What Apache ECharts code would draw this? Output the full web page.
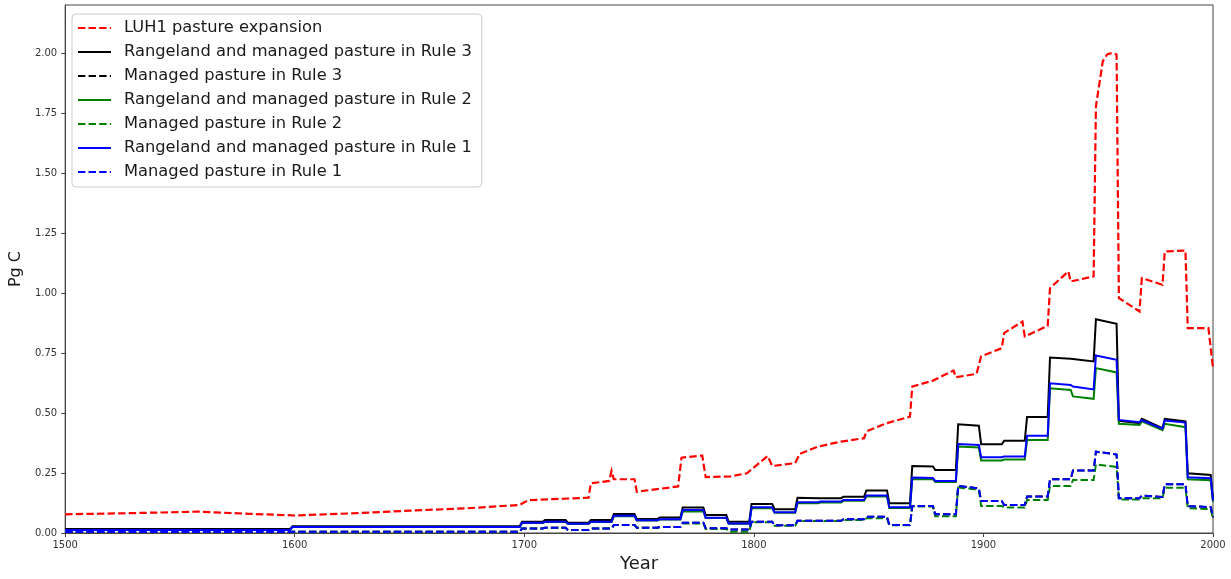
<!DOCTYPE html>
<html>
<head>
<meta charset="utf-8">
<script src="https://cdn.jsdelivr.net/npm/echarts@6/dist/echarts.min.js"></script>
<style>
html,body{margin:0;padding:0;background:#fff;}
#chart{width:1231px;height:579px;}
</style>
</head>
<body>
<div id="chart"></div>
<script>
// ---- DATA ----
const xTicks = [1500, 1600, 1700, 1800, 1900, 2000];
const yTicks = [0, 0.25, 0.5, 0.75, 1.0, 1.25, 1.5, 1.75, 2.0];

// LUH1 pasture expansion (red dashed)
const luhYears = [1500,1530,1558,1580,1600,1625,1650,1675,1698,1700,1702,1728,1729,1737,1738,1739,1748,1749,1767,1768.5,1777.5,1779,1790,1797,1806,1808,1818,1820,1828,1838,1848,1849,1858,1868,1869,1878,1887,1888,1897,1899,1908,1909,1917,1918,1928,1929,1937,1938,1948,1949,1952,1954,1956,1958,1959,1968,1969,1978,1979,1988,1989,1998,2000];
const luhValues = [0.078,0.083,0.089,0.080,0.073,0.082,0.093,0.103,0.117,0.128,0.137,0.147,0.207,0.217,0.259,0.224,0.224,0.172,0.194,0.314,0.323,0.233,0.236,0.249,0.321,0.279,0.291,0.330,0.360,0.381,0.395,0.423,0.458,0.485,0.610,0.635,0.677,0.649,0.663,0.736,0.770,0.833,0.881,0.819,0.863,1.020,1.090,1.048,1.069,1.778,1.966,1.995,2.000,1.994,0.979,0.923,1.062,1.034,1.173,1.177,0.854,0.854,0.687];

// Segment start years (values hold within each segment)
const segStarts = [1500,1600,1700,1710,1720,1730,1740,1750,1760,1770,1780,1790,1800,1810,1820,1830,1840,1850,1860,1870,1880,1890,1900,1910,1920,1930,1940,1950,1960,1970,1980,1990];

// Rangeland and managed pasture in Rule 3 (black solid)
const r3AllStart = [0.017,0.028,0.047,0.054,0.043,0.054,0.079,0.058,0.065,0.106,0.075,0.047,0.121,0.099,0.147,0.145,0.151,0.177,0.124,0.279,0.263,0.453,0.370,0.384,0.483,0.731,0.725,0.891,0.467,0.476,0.476,0.249];
const r3AllEnd   = [0.017,0.028,0.047,0.054,0.043,0.054,0.079,0.058,0.065,0.106,0.075,0.047,0.121,0.099,0.145,0.145,0.151,0.177,0.124,0.277,0.263,0.447,0.370,0.384,0.483,0.726,0.715,0.872,0.458,0.437,0.465,0.242];
const r3AllFinal = 0.138;

// Managed pasture in Rule 3 (black dashed)
const r3ManStart = [0.004,0.005,0.019,0.022,0.0125,0.019,0.033,0.022,0.025,0.043,0.020,0.015,0.047,0.032,0.051,0.051,0.057,0.068,0.033,0.113,0.078,0.196,0.133,0.117,0.152,0.224,0.260,0.339,0.145,0.156,0.203,0.112];
const r3ManEnd   = [0.004,0.005,0.019,0.022,0.0125,0.019,0.033,0.022,0.025,0.043,0.020,0.015,0.047,0.032,0.051,0.051,0.057,0.068,0.033,0.113,0.078,0.186,0.133,0.117,0.152,0.224,0.260,0.327,0.145,0.150,0.203,0.108];
const r3ManFinal = 0.065;

// Rangeland and managed pasture in Rule 2 (green solid)
const r2AllStart = [0.013,0.025,0.042,0.046,0.038,0.046,0.070,0.052,0.056,0.090,0.062,0.039,0.103,0.084,0.124,0.127,0.134,0.152,0.104,0.224,0.212,0.360,0.302,0.306,0.388,0.603,0.569,0.687,0.455,0.465,0.455,0.224];
const r2AllEnd   = [0.013,0.025,0.042,0.046,0.038,0.046,0.070,0.052,0.056,0.090,0.062,0.039,0.103,0.084,0.124,0.127,0.134,0.152,0.104,0.224,0.212,0.356,0.302,0.306,0.388,0.596,0.559,0.669,0.450,0.428,0.441,0.220];
const r2AllFinal = 0.130;

// Managed pasture in Rule 2 (green dashed)
const r2ManStart = [0.004,0.005,0.019,0.022,0.0125,0.019,0.033,0.022,0.025,0.040,0.017,0.005,0.045,0.030,0.050,0.050,0.054,0.061,0.032,0.110,0.070,0.190,0.113,0.106,0.138,0.196,0.221,0.286,0.140,0.145,0.189,0.103];
const r2ManEnd   = [0.004,0.005,0.019,0.022,0.0125,0.019,0.033,0.022,0.025,0.040,0.017,0.005,0.045,0.030,0.050,0.050,0.054,0.061,0.032,0.110,0.070,0.180,0.113,0.106,0.138,0.196,0.221,0.275,0.140,0.145,0.189,0.100];
const r2ManFinal = 0.060;

// Rangeland and managed pasture in Rule 1 (blue solid)
const r1AllStart = [0.013,0.025,0.043,0.047,0.039,0.047,0.072,0.053,0.057,0.096,0.064,0.040,0.107,0.086,0.128,0.131,0.138,0.156,0.107,0.231,0.217,0.371,0.316,0.319,0.405,0.624,0.610,0.740,0.471,0.470,0.469,0.232];
const r1AllEnd   = [0.013,0.025,0.043,0.047,0.039,0.047,0.072,0.053,0.057,0.096,0.064,0.040,0.107,0.086,0.128,0.131,0.138,0.156,0.107,0.229,0.217,0.367,0.316,0.319,0.405,0.617,0.598,0.722,0.462,0.435,0.460,0.228];
const r1AllFinal = 0.135;

// Managed pasture in Rule 1 (blue dashed)
const r1ManStart = [0.004,0.005,0.019,0.022,0.0125,0.019,0.033,0.022,0.025,0.043,0.020,0.015,0.047,0.032,0.051,0.051,0.057,0.068,0.033,0.113,0.078,0.196,0.133,0.117,0.152,0.224,0.260,0.339,0.145,0.156,0.203,0.112];
const r1ManEnd   = [0.004,0.005,0.019,0.022,0.0125,0.019,0.033,0.022,0.025,0.043,0.020,0.015,0.047,0.032,0.051,0.051,0.057,0.068,0.033,0.113,0.078,0.186,0.133,0.117,0.152,0.224,0.260,0.327,0.145,0.150,0.203,0.108];
const r1ManFinal = 0.065;

// ---- BUILD ----
function stepPoints(starts, vStart, vEnd, vFinal) {
  const pts = [];
  for (let i = 0; i < starts.length; i++) {
    const s = starts[i];
    const last = i === starts.length - 1;
    const x0 = i === 0 ? s : s - 1;
    const x1 = last ? 1999 : starts[i + 1] - 2;
    pts.push([x0, vStart[i]]);
    pts.push([x1, vEnd[i]]);
  }
  pts.push([2000, vFinal]);
  return pts;
}
const luhPoints = luhYears.map((y, i) => [y, luhValues[i]]);

const DASH = [7.4, 3.2];
function mk(name, data, color, dashed, width) {
  return {
    name: name, type: 'line', data: data, symbol: 'none', showSymbol: false,
    lineStyle: { color: color, width: width || 2, type: dashed ? DASH : 'solid', cap: 'butt', join: 'miter' },
    itemStyle: { color: color },
    emphasis: { disabled: true }, animation: false, z: 2
  };
}

const series = [
  mk('LUH1 pasture expansion', luhPoints, '#ff0000', true, 2.2),
  mk('Rangeland and managed pasture in Rule 3', stepPoints(segStarts, r3AllStart, r3AllEnd, r3AllFinal), '#000000', false),
  mk('Managed pasture in Rule 3', stepPoints(segStarts, r3ManStart, r3ManEnd, r3ManFinal), '#000000', true),
  mk('Rangeland and managed pasture in Rule 2', stepPoints(segStarts, r2AllStart, r2AllEnd, r2AllFinal), '#008000', false),
  mk('Managed pasture in Rule 2', stepPoints(segStarts, r2ManStart, r2ManEnd, r2ManFinal), '#008000', true),
  mk('Rangeland and managed pasture in Rule 1', stepPoints(segStarts, r1AllStart, r1AllEnd, r1AllFinal), '#0000ff', false),
  mk('Managed pasture in Rule 1', stepPoints(segStarts, r1ManStart, r1ManEnd, r1ManFinal), '#0000ff', true)
];

const FONT = 'DejaVu Sans';
const chart = echarts.init(document.getElementById('chart'), null, { renderer: 'canvas' });
chart.setOption({
  animation: false,
  backgroundColor: '#ffffff',
  grid: { left: 64, right: 18, top: 5, bottom: 46, show: true, borderColor: '#444', borderWidth: 1, backgroundColor: 'transparent' },
  legend: {
    orient: 'vertical', left: 72, top: 14,
    padding: [6, 10, 7, 5], itemGap: 8, itemWidth: 33, itemHeight: 16,
    backgroundColor: 'rgba(255,255,255,0.85)', borderColor: '#cccccc', borderWidth: 1, borderRadius: 4,
    itemStyle: { opacity: 0 },
    textStyle: { fontFamily: FONT, fontSize: 16.3, color: '#1a1a1a', padding: [0, 0, 0, 8] },
    selectedMode: false,
    data: series.map(s => s.name)
  },
  xAxis: {
    type: 'value', min: 1500, max: 2000, interval: 100,
    name: 'Year', nameLocation: 'middle', nameGap: 22,
    nameTextStyle: { fontFamily: FONT, fontSize: 18, color: '#1a1a1a' },
    axisLine: { show: true, lineStyle: { color: '#444' } },
    axisTick: { show: true, length: 4, inside: false, lineStyle: { color: '#444' }, customValues: xTicks },
    axisLabel: { fontFamily: FONT, fontSize: 10, color: '#333', margin: 7, customValues: xTicks, formatter: v => String(v) },
    splitLine: { show: false }
  },
  yAxis: {
    type: 'value', min: 0, max: 2.2, interval: 0.25,
    name: 'Pg C', nameLocation: 'middle', nameGap: 36, nameRotate: 90,
    nameTextStyle: { fontFamily: FONT, fontSize: 16, color: '#1a1a1a' },
    axisLine: { show: true, lineStyle: { color: '#444' } },
    axisTick: { show: true, length: 4, inside: false, lineStyle: { color: '#444' }, customValues: yTicks },
    axisLabel: { fontFamily: FONT, fontSize: 10, color: '#333', margin: 8, customValues: yTicks, formatter: v => v.toFixed(2) },
    splitLine: { show: false }
  },
  series: series
});
</script>
</body>
</html>
